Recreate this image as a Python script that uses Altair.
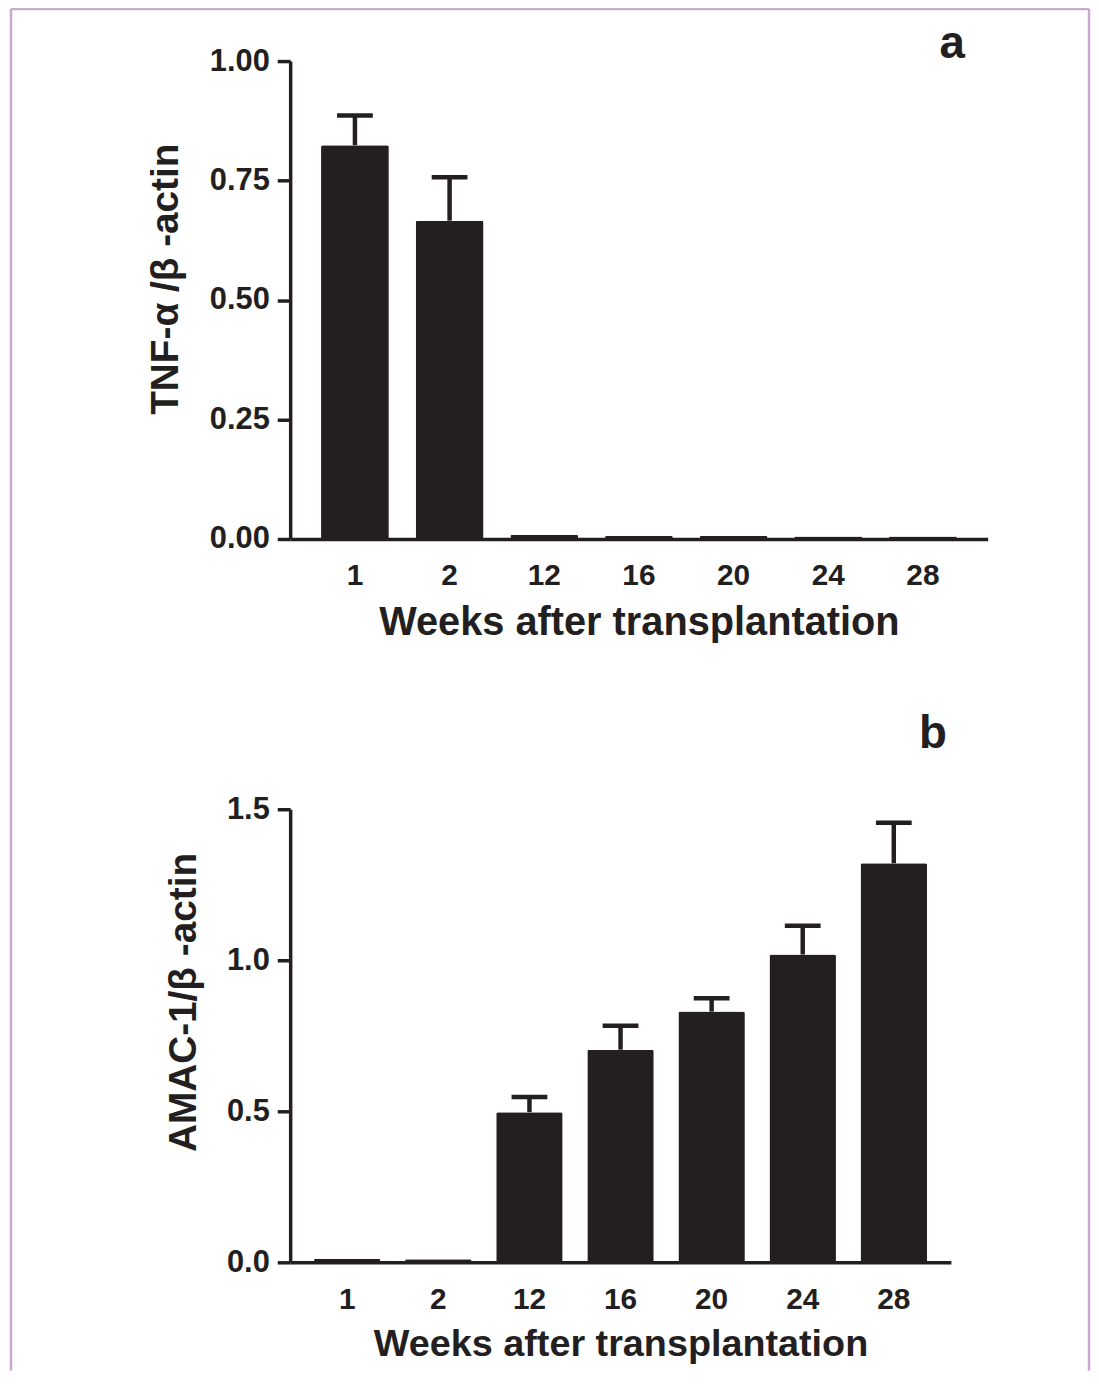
import altair as alt
import pandas as pd

# ---- data ----
weeks = ["1", "2", "12", "16", "20", "24", "28"]
tnf_mean = [0.824, 0.666, 0.009, 0.006, 0.006, 0.005, 0.005]
tnf_upper = [0.886, 0.757, None, None, None, None, None]
amac_mean = [0.012, 0.010, 0.497, 0.704, 0.830, 1.019, 1.321]
amac_upper = [None, None, 0.547, 0.783, 0.874, 1.114, 1.455]
tnf_ticks = [0, 0.25, 0.5, 0.75, 1.0]
amac_ticks = [0, 0.5, 1.0, 1.5]
x_title = "Weeks after transplantation"
tnf_title = "TNF-\u03b1 /\u03b2 -actin"
amac_title = "AMAC-1/\u03b2 -actin"

INK = "#231f20"
FRAME = "#cba6d0"
FONT = "Liberation Sans"
GAP = 272


def panel(mean, upper, ticks, fmt, ytitle, letter, w, h, ymax, pin, pout,
          tx, ty, ldx, ldy, loff, xtfs, frame=False):
    df = pd.DataFrame({"week": weeks, "mean": mean, "upper": upper})
    xenc = alt.X(
        "week:N", sort=weeks,
        scale=alt.Scale(paddingInner=pin, paddingOuter=pout),
        axis=alt.Axis(
            title=x_title, labelAngle=0, ticks=False, labelPadding=22,
            labelFontSize=30, labelFont=FONT, labelFontWeight="bold",
            labelColor=INK, titleFontSize=xtfs, titleFont=FONT,
            titleFontWeight="bold", titleColor=INK, titlePadding=12,
            domainColor=INK, domainWidth=3.5,
        ),
    )
    yenc = alt.Y(
        "mean:Q",
        scale=alt.Scale(domain=[0, ymax], nice=False),
        axis=alt.Axis(
            values=ticks, format=fmt, title=ytitle, grid=False,
            tickSize=13, tickWidth=3.5, tickColor=INK, labelPadding=8,
            labelFontSize=31, labelFont=FONT, labelFontWeight="bold",
            labelColor=INK, domainColor=INK, domainWidth=3.5,
            titleFontSize=39, titleFont=FONT, titleFontWeight="bold",
            titleColor=INK, titleX=tx, titleY=ty, titleAlign="center",
            titleBaseline="middle", titleAngle=270,
        ),
    )
    bars = alt.Chart(df).mark_bar(color=INK, cornerRadius=2).encode(x=xenc, y=yenc)
    err = alt.Chart(df).transform_filter("datum.upper != null")
    stem = err.mark_rule(color=INK, strokeWidth=4.5, opacity=1).encode(
        x=alt.X("week:N", sort=weeks), y="mean:Q", y2="upper:Q")
    cap = err.mark_tick(color=INK, thickness=4.5, size=36, opacity=1).encode(
        x=alt.X("week:N", sort=weeks), y="upper:Q")
    layers = [bars, stem, cap]
    if frame:
        # decorative page frame (left, top and right edges)
        one = alt.Chart(pd.DataFrame({"k": [0]}))
        layers += [
            one.mark_rule(color=FRAME, strokeWidth=2.5).encode(
                x=alt.value(-281), y=alt.value(-52.5), y2=alt.value(1318)),
            one.mark_rule(color=FRAME, strokeWidth=2.5).encode(
                x=alt.value(-281), x2=alt.value(804), y=alt.value(-52.5)),
            one.mark_rule(color=FRAME, strokeWidth=2.5).encode(
                x=alt.value(804), y=alt.value(-52.5), y2=alt.value(1318)),
        ]
    return alt.layer(*layers).properties(
        width=w, height=h,
        title=alt.TitleParams(
            text=letter, anchor="end", frame="group", dx=ldx, dy=ldy,
            offset=loff, fontSize=46, font=FONT, fontWeight="bold", color=INK,
            baseline="alphabetic"),
    )


a = panel(tnf_mean, tnf_upper, tnf_ticks, ".2f", tnf_title, "a",
          702, 481, 1.0, 0.284, 0.326, -125, 219, -23, 77, -20, 40, frame=True)
b = panel(amac_mean, amac_upper, amac_ticks, ".1f", amac_title, "b",
          665, 456, 1.5, 0.27, 0.262, -107, 194, -4, 2, 2, 38)

chart = alt.vconcat(a, b, spacing=GAP, bounds="flush").properties(
    padding={"left": 1, "top": -5, "right": 0, "bottom": 0},
    background="white",
).configure_view(strokeWidth=0, stroke="transparent")

chart.save("out.html", embed_options={"renderer": "svg", "actions": False})
